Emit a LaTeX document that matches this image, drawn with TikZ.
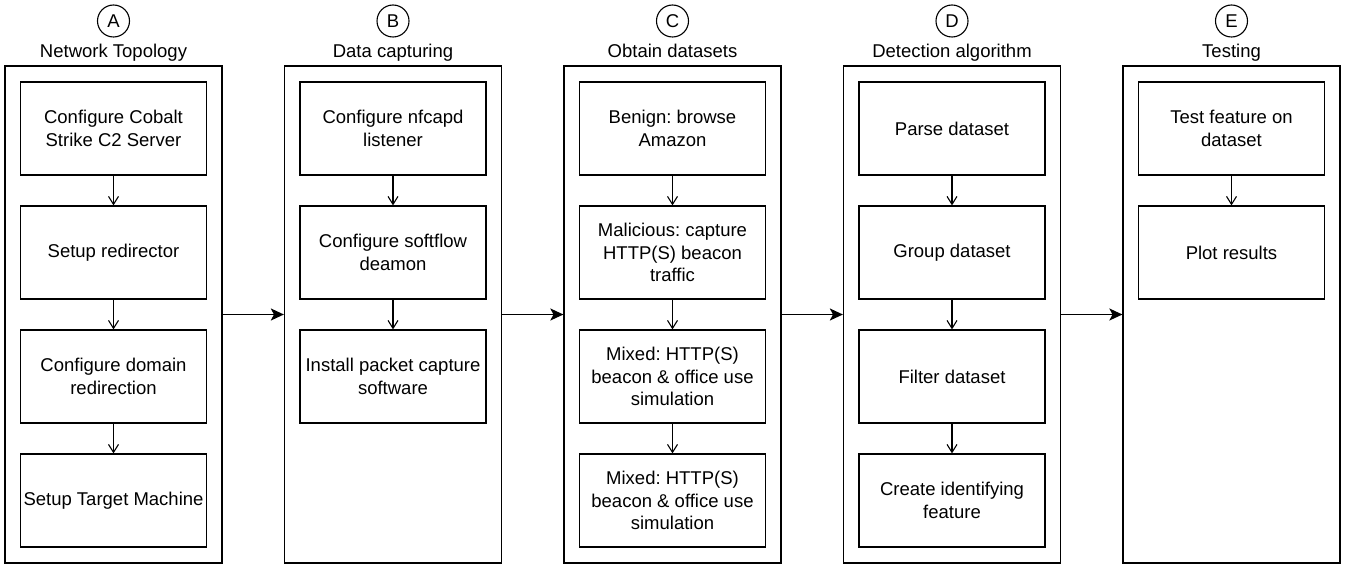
\documentclass[tikz,border=0pt]{standalone}
\usepackage{fontspec}
\setmainfont{Liberation Sans}
\usetikzlibrary{arrows.meta}
\frenchspacing
\tikzset{
  every node/.style={font=\fontsize{18.5bp}{22.3bp}\selectfont},
  outerbox/.style={draw, line width=1.2bp, minimum width=217bp, minimum height=497bp, inner sep=0pt},
  stepbox/.style={draw, line width=1.2bp, minimum width=186bp, minimum height=93bp, inner sep=0pt, align=center},
  letter/.style={draw, circle, line width=1.1bp, minimum size=32bp, inner sep=0pt},
  coltitle/.style={anchor=base, inner sep=0pt},
  flow/.style={line width=1.1bp, -{Straight Barb[length=8bp,width=10bp]}},
  phase/.style={line width=1.4bp, -{Stealth[length=13bp,width=12bp,inset=3bp]}}
}
\begin{document}
\begin{tikzpicture}[x=1bp,y=-1bp]
\useasboundingbox (0,0) rectangle (1359,565);
% outer columns
\node[outerbox] (A) at (113.5,314.5) {};
\node[outerbox] (B) at (393,314.5) {};
\node[outerbox] (C) at (672.5,314.5) {};
\node[outerbox] (D) at (952,314.5) {};
\node[outerbox] (E) at (1231.5,314.5) {};
% letters and titles
\node[letter] (cA) at (113.5,21) {A};
\node[letter] (cB) at (393,21) {B};
\node[letter] (cC) at (672.5,21) {C};
\node[letter] (cD) at (952,21) {D};
\node[letter] (cE) at (1231.5,21) {E};
\node[coltitle] (tA) at (113.5,58) {Network Topology};
\node[coltitle] (tB) at (393,58) {Data capturing};
\node[coltitle] (tC) at (672.5,58) {Obtain datasets};
\node[coltitle] (tD) at (952,58) {Detection algorithm};
\node[coltitle] (tE) at (1231.5,58) {Testing};
% column A
\node[stepbox] (a1) at (113.5,128.5) {Configure Cobalt\\Strike C2 Server};
\node[stepbox] (a2) at (113.5,252.5) {Setup redirector};
\node[stepbox] (a3) at (113.5,376.5) {Configure domain\\redirection};
\node[stepbox] (a4) at (113.5,500.5) {Setup Target Machine};
% column B
\node[stepbox] (b1) at (393,128.5) {Configure nfcapd\\listener};
\node[stepbox] (b2) at (393,252.5) {Configure softflow\\deamon};
\node[stepbox] (b3) at (393,376.5) {Install packet capture\\software};
% column C
\node[stepbox] (c1) at (672.5,128.5) {Benign: browse\\Amazon};
\node[stepbox] (c2) at (672.5,252.5) {Malicious: capture\\HTTP(S) beacon\\traffic};
\node[stepbox] (c3) at (672.5,376.5) {Mixed: HTTP(S)\\beacon \& office use\\simulation};
\node[stepbox] (c4) at (672.5,500.5) {Mixed: HTTP(S)\\beacon \& office use\\simulation};
% column D
\node[stepbox] (d1) at (952,128.5) {Parse dataset};
\node[stepbox] (d2) at (952,252.5) {Group dataset};
\node[stepbox] (d3) at (952,376.5) {Filter dataset};
\node[stepbox] (d4) at (952,500.5) {Create identifying\\feature};
% column E
\node[stepbox] (e1) at (1231.5,128.5) {Test feature on\\dataset};
\node[stepbox] (e2) at (1231.5,252.5) {Plot results};
% inner arrows
\draw[flow] (a1.south) -- (a2.north);
\draw[flow] (a2.south) -- (a3.north);
\draw[flow] (a3.south) -- (a4.north);
\draw[flow] (b1.south) -- (b2.north);
\draw[flow] (b2.south) -- (b3.north);
\draw[flow] (c1.south) -- (c2.north);
\draw[flow] (c2.south) -- (c3.north);
\draw[flow] (c3.south) -- (c4.north);
\draw[flow] (d1.south) -- (d2.north);
\draw[flow] (d2.south) -- (d3.north);
\draw[flow] (d3.south) -- (d4.north);
\draw[flow] (e1.south) -- (e2.north);
% phase arrows
\draw[phase] (A.east) -- (B.west);
\draw[phase] (B.east) -- (C.west);
\draw[phase] (C.east) -- (D.west);
\draw[phase] (D.east) -- (E.west);
\end{tikzpicture}
\end{document}
